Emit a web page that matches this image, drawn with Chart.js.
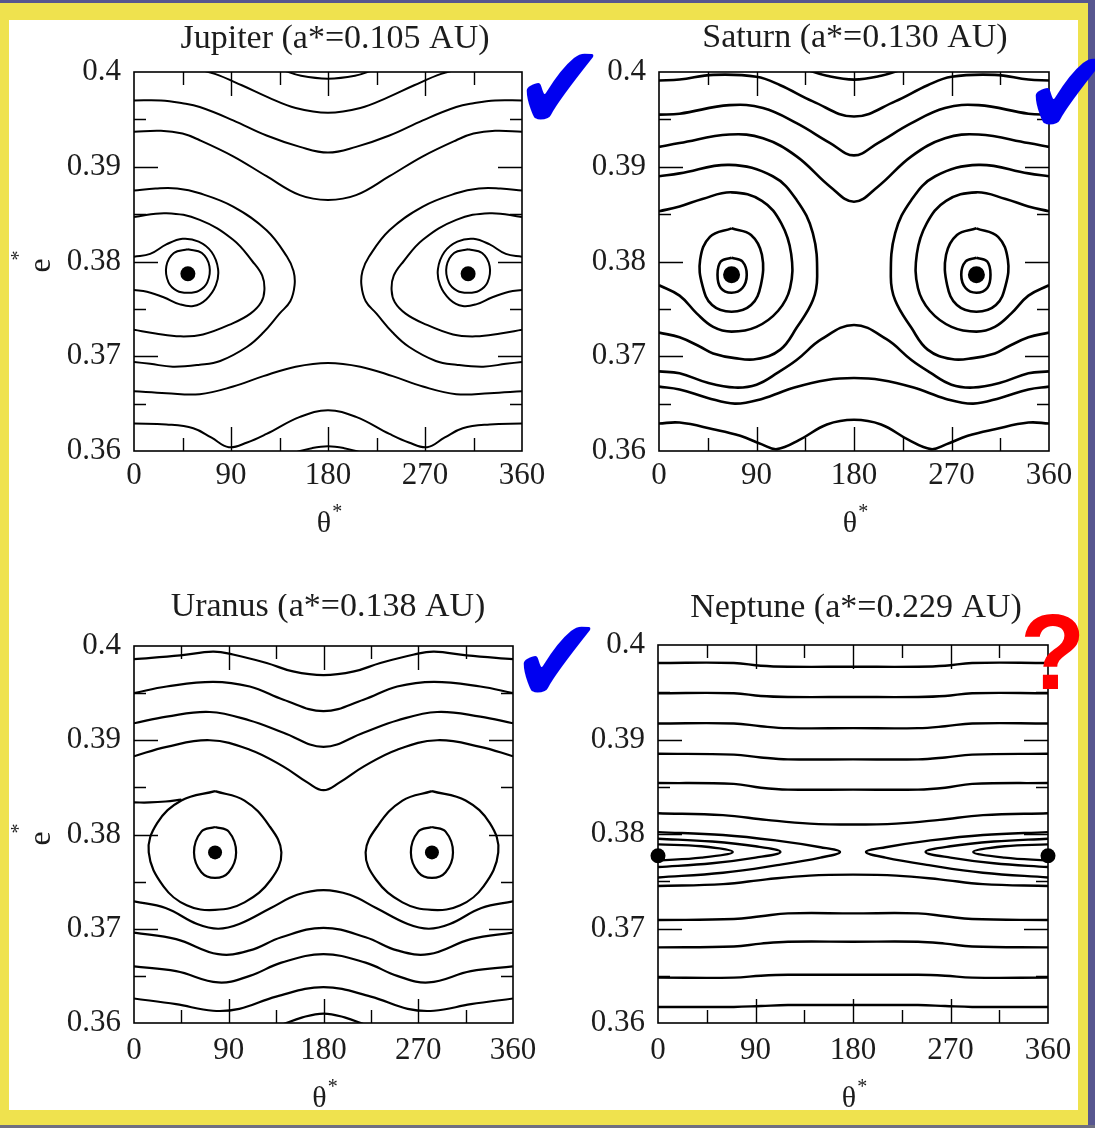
<!DOCTYPE html>
<html>
<head>
<meta charset="utf-8">
<script src="https://cdn.jsdelivr.net/npm/chart.js@4.4.1/dist/chart.umd.min.js"></script>
<style>
  html, body { margin: 0; padding: 0; }
  body { width: 1095px; height: 1128px; position: relative; overflow: hidden; background: #57568f; }
  #frame { position: absolute; left: 0; top: 3px; width: 1088px; height: 1122px; background: #efe24e; }
  #sheet { position: absolute; left: 9px; top: 20px; width: 1069px; height: 1090px; background: #fff; }
  #foot { position: absolute; left: 0; top: 1125px; width: 1095px; height: 3px; background: #6f6f80; }
  canvas { position: absolute; }
  .tick { position: absolute; font-family: "DejaVu Sans", sans-serif; color: #0000f0; font-size: 110px; line-height: 1; transform: scaleY(1.1); transform-origin: 0 0; }
  .query { position: absolute; font-family: "Liberation Sans", Arial, sans-serif; font-weight: bold; color: #ff0000; font-size: 107px; line-height: 1; }
</style>
</head>
<body>
<div id="frame"></div>
<div id="sheet"></div>
<div id="foot"></div>
<canvas id="c0"></canvas>
<canvas id="c1"></canvas>
<canvas id="c2"></canvas>
<canvas id="c3"></canvas>
<div class="tick" style="left:514px;top:28px">✔</div>
<div class="tick" style="left:1023px;top:33px">✔</div>
<div class="tick" style="left:511px;top:601px">✔</div>
<div class="query" style="left:1020px;top:599px">?</div>
<script>
// axis ticks shared by all four panels
const thetaTicks = [0, 90, 180, 270, 360];
const thetaMinor = [45, 135, 225, 315];
const eTicks = [0.36, 0.37, 0.38, 0.39, 0.4];
const eMinor = [0.365, 0.375, 0.385, 0.395];
const eTickLabels = ['0.36', '0.37', '0.38', '0.39', '0.4'];

const panelTitles = ['Jupiter (a*=0.105 AU)', 'Saturn (a*=0.130 AU)', 'Uranus (a*=0.138 AU)', 'Neptune (a*=0.229 AU)'];

// fixed points [theta*, e*]
const jupiterCentres = [[50, 0.3787], [310, 0.3787]];
const saturnCentres = [[67, 0.3786], [293, 0.3786]];
const uranusCentres = [[77, 0.3781], [283, 0.3781]];
const neptuneCentres = [[0, 0.3777], [360, 0.3777]];

// traced orbits, one [theta*, e*] list per curve
const jupiterOrbits = [
  [[138,0.4002],[155,0.3996],[180,0.3993],[205,0.3996],[222,0.4002]],
  [[55,0.4004],[75,0.3998],[100,0.3986],[125,0.3973],[150,0.3962],[180,0.3957],[210,0.3962],[235,0.3973],[260,0.3986],[285,0.3998],[305,0.4004]],
  [[0,0.3970],[25,0.3970],[45,0.3967],[61,0.3963],[92,0.3949],[123,0.3933],[154,0.3921],[180,0.3915],[206,0.3921],[237,0.3933],[268,0.3949],[299,0.3963],[315,0.3967],[335,0.3970],[360,0.3970]],
  [[0,0.3937],[25,0.3938],[45,0.3935],[61,0.3928],[92,0.3911],[123,0.3890],[154,0.3870],[180,0.3865],[206,0.3870],[237,0.3890],[268,0.3911],[299,0.3928],[315,0.3935],[335,0.3938],[360,0.3937]],
  [[0,0.3875],[20,0.3877],[40,0.3877],[61,0.3872],[92,0.3858],[123,0.3833],[142,0.3805],[148,0.3790],[149,0.3775],[145,0.3758],[135,0.3745],[120,0.3725],[105,0.3710],[80,0.3695],[61,0.3691],[36,0.3689],[15,0.3692],[0,0.3694]],
  [[360,0.3875],[340,0.3877],[320,0.3877],[299,0.3872],[268,0.3858],[237,0.3833],[218,0.3805],[212,0.3790],[211,0.3775],[215,0.3758],[225,0.3745],[240,0.3725],[255,0.3710],[280,0.3695],[299,0.3691],[324,0.3689],[345,0.3692],[360,0.3694]],
  [[0,0.3847],[30,0.3851],[61,0.3844],[92,0.3823],[110,0.3800],[119,0.3785],[121,0.3770],[118,0.3757],[108,0.3745],[92,0.3735],[64,0.3723],[43,0.3721],[20,0.3724],[0,0.3728]],
  [[360,0.3847],[330,0.3851],[299,0.3844],[268,0.3823],[250,0.3800],[241,0.3785],[239,0.3770],[242,0.3757],[252,0.3745],[268,0.3735],[296,0.3723],[317,0.3721],[340,0.3724],[360,0.3728]],
  [[0,0.3805],[15,0.3808],[30,0.3818],[45,0.3824],[60,0.3821],[72,0.3810],[78,0.3792],[76,0.3775],[67,0.3760],[55,0.3753],[42,0.3755],[28,0.3762],[12,0.3768],[0,0.3770]],
  [[360,0.3805],[345,0.3808],[330,0.3818],[315,0.3824],[300,0.3821],[288,0.3810],[282,0.3792],[284,0.3775],[293,0.3760],[305,0.3753],[318,0.3755],[332,0.3762],[348,0.3768],[360,0.3770]],
  [[50,0.3813],[63,0.3809],[70,0.3795],[68,0.3778],[60,0.3769],[50,0.3767],[40,0.3769],[32,0.3778],[30,0.3795],[37,0.3809],[50,0.3813]],
  [[310,0.3813],[323,0.3809],[330,0.3795],[328,0.3778],[320,0.3769],[310,0.3767],[300,0.3769],[292,0.3778],[290,0.3795],[297,0.3809],[310,0.3813]],
  [[0,0.3663],[30,0.3661],[61,0.3660],[92,0.3668],[120,0.3679],[150,0.3689],[180,0.3693],[210,0.3689],[240,0.3679],[268,0.3668],[299,0.3660],[330,0.3661],[360,0.3663]],
  [[0,0.3629],[30,0.3628],[55,0.3624],[72,0.3614],[88,0.3604],[105,0.3609],[123,0.3618],[154,0.3636],[180,0.3643],[206,0.3636],[237,0.3618],[255,0.3609],[272,0.3604],[288,0.3614],[305,0.3624],[330,0.3628],[360,0.3629]],
  [[148,0.3598],[165,0.3603],[180,0.3605],[195,0.3603],[212,0.3598]]
];

const saturnOrbits = [
  [[135,0.4003],[155,0.3996],[180,0.3992],[205,0.3996],[225,0.4003]],
  [[0,0.3991],[19,0.3992],[50,0.3997],[90,0.3995],[112,0.3986],[142,0.3969],[180,0.3953],[218,0.3969],[248,0.3986],[270,0.3995],[310,0.3997],[341,0.3992],[360,0.3991]],
  [[0,0.3955],[19,0.3956],[65,0.3965],[96,0.3962],[127,0.3946],[158,0.3925],[180,0.3912],[202,0.3925],[233,0.3946],[264,0.3962],[295,0.3965],[341,0.3956],[360,0.3955]],
  [[0,0.3921],[19,0.3925],[65,0.3934],[96,0.3930],[127,0.3911],[158,0.3879],[180,0.3863],[202,0.3879],[233,0.3911],[264,0.3930],[295,0.3934],[341,0.3925],[360,0.3921]],
  [[67,0.3804],[77,0.3800],[81,0.3786],[77,0.3772],[67,0.3767],[57,0.3772],[54,0.3786],[57,0.3800],[67,0.3804]],
  [[293,0.3804],[283,0.3800],[279,0.3786],[283,0.3772],[293,0.3767],[303,0.3772],[306,0.3786],[303,0.3800],[293,0.3804]],
  [[67,0.3835],[85,0.3828],[95,0.3807],[94,0.3775],[85,0.3754],[67,0.3747],[49,0.3754],[40,0.3775],[38,0.3802],[47,0.3826],[67,0.3835]],
  [[293,0.3835],[275,0.3828],[265,0.3807],[266,0.3775],[275,0.3754],[293,0.3747],[311,0.3754],[320,0.3775],[322,0.3802],[313,0.3826],[293,0.3835]],
  [[0,0.3853],[19,0.3858],[40,0.3866],[67,0.3873],[95,0.3864],[113,0.3840],[122,0.3808],[121,0.3772],[110,0.3748],[90,0.3731],[67,0.3726],[50,0.3731],[35,0.3745],[19,0.3764],[0,0.3775]],
  [[360,0.3853],[341,0.3858],[320,0.3866],[293,0.3873],[265,0.3864],[247,0.3840],[238,0.3808],[239,0.3772],[250,0.3748],[270,0.3731],[293,0.3726],[310,0.3731],[325,0.3745],[341,0.3764],[360,0.3775]],
  [[0,0.3890],[19,0.3893],[65,0.3902],[105,0.3890],[127,0.3865],[142,0.3830],[146,0.3784],[142,0.3759],[127,0.3730],[112,0.3707],[90,0.3697],[70,0.3698],[50,0.3703],[38,0.3710],[19,0.3720],[0,0.3725]],
  [[360,0.3890],[341,0.3893],[295,0.3902],[255,0.3890],[233,0.3865],[218,0.3830],[214,0.3784],[218,0.3759],[233,0.3730],[248,0.3707],[270,0.3697],[290,0.3698],[310,0.3703],[322,0.3710],[341,0.3720],[360,0.3725]],
  [[0,0.3684],[19,0.3682],[45,0.3672],[70,0.3667],[90,0.3670],[110,0.3683],[127,0.3696],[150,0.3718],[180,0.3733],[210,0.3718],[233,0.3696],[250,0.3683],[270,0.3670],[290,0.3667],[315,0.3672],[341,0.3682],[360,0.3684]],
  [[0,0.3668],[19,0.3665],[45,0.3656],[70,0.3650],[95,0.3655],[125,0.3667],[155,0.3675],[180,0.3677],[205,0.3675],[235,0.3667],[265,0.3655],[290,0.3650],[315,0.3656],[341,0.3665],[360,0.3668]],
  [[0,0.3629],[19,0.3630],[50,0.3623],[75,0.3616],[95,0.3607],[109,0.3602],[130,0.3612],[155,0.3628],[180,0.3633],[205,0.3628],[230,0.3612],[251,0.3602],[265,0.3607],[285,0.3616],[310,0.3623],[341,0.3630],[360,0.3629]]
];

const uranusOrbits = [
  [[0,0.3986],[44,0.3990],[75,0.3994],[94,0.3991],[126,0.3982],[151,0.3973],[180,0.3969],[209,0.3973],[234,0.3982],[266,0.3991],[285,0.3994],[316,0.3990],[360,0.3986]],
  [[0,0.3950],[31,0.3957],[75,0.3962],[110,0.3957],[142,0.3943],[180,0.3931],[218,0.3943],[250,0.3957],[285,0.3962],[329,0.3957],[360,0.3950]],
  [[0,0.3918],[31,0.3925],[72,0.3930],[110,0.3921],[142,0.3908],[180,0.3893],[218,0.3908],[250,0.3921],[288,0.3930],[329,0.3925],[360,0.3918]],
  [[0,0.3883],[31,0.3893],[72,0.3900],[110,0.3890],[142,0.3872],[165,0.3855],[180,0.3847],[195,0.3855],[218,0.3872],[250,0.3890],[288,0.3900],[329,0.3893],[360,0.3883]],
  [[77,0.3808],[90,0.3803],[97,0.3781],[90,0.3760],[77,0.3754],[64,0.3760],[57,0.3781],[64,0.3803],[77,0.3808]],
  [[283,0.3808],[270,0.3803],[263,0.3781],[270,0.3760],[283,0.3754],[296,0.3760],[303,0.3781],[296,0.3803],[283,0.3808]],
  [[77,0.3846],[105,0.3836],[128,0.3810],[140,0.3781],[130,0.3752],[105,0.3728],[77,0.3720],[50,0.3725],[28,0.3745],[14,0.3781],[22,0.3812],[45,0.3836],[77,0.3846]],
  [[283,0.3846],[255,0.3836],[232,0.3810],[220,0.3781],[230,0.3752],[255,0.3728],[283,0.3720],[310,0.3725],[332,0.3745],[346,0.3781],[338,0.3812],[315,0.3836],[283,0.3846]],
  [[0,0.3834],[15,0.3834],[30,0.3835],[45,0.3837]],
  [[0,0.3729],[30,0.3722],[60,0.3705],[80,0.3700],[100,0.3705],[130,0.3722],[155,0.3736],[180,0.3741],[205,0.3736],[230,0.3722],[260,0.3705],[280,0.3700],[300,0.3705],[330,0.3722],[360,0.3729]],
  [[0,0.3696],[40,0.3689],[80,0.3673],[110,0.3677],[140,0.3691],[180,0.3701],[220,0.3691],[250,0.3677],[280,0.3673],[320,0.3689],[360,0.3696]],
  [[0,0.3660],[40,0.3655],[80,0.3643],[110,0.3650],[140,0.3664],[180,0.3673],[220,0.3664],[250,0.3650],[280,0.3643],[320,0.3655],[360,0.3660]],
  [[0,0.3626],[40,0.3620],[75,0.3613],[100,0.3615],[135,0.3628],[180,0.3638],[225,0.3628],[260,0.3615],[285,0.3613],[320,0.3620],[360,0.3626]],
  [[140,0.3598],[160,0.3606],[180,0.3610],[200,0.3606],[220,0.3598]]
];

const neptuneOrbits = [
  [[0,0.3981],[70,0.3981],[95,0.3978],[120,0.3977],[180,0.3977],[240,0.3977],[265,0.3978],[290,0.3981],[360,0.3981]],
  [[0,0.3949],[70,0.3949],[95,0.3946],[120,0.3945],[180,0.3945],[240,0.3945],[265,0.3946],[290,0.3949],[360,0.3949]],
  [[0,0.3917],[70,0.3917],[95,0.3914],[120,0.3912],[180,0.3912],[240,0.3912],[265,0.3914],[290,0.3917],[360,0.3917]],
  [[0,0.3885],[70,0.3884],[95,0.3881],[120,0.3879],[180,0.3879],[240,0.3879],[265,0.3881],[290,0.3884],[360,0.3885]],
  [[0,0.3854],[70,0.3853],[95,0.3849],[120,0.3847],[180,0.3847],[240,0.3847],[265,0.3849],[290,0.3853],[360,0.3854]],
  [[0,0.3822],[60,0.3820],[100,0.3815],[140,0.3811],[180,0.3810],[220,0.3811],[260,0.3815],[300,0.3820],[360,0.3822]],
  [[0,0.3802],[60,0.3799],[110,0.3793],[150,0.3786],[168,0.3781],[150,0.3775],[110,0.3767],[60,0.3759],[0,0.3754]],
  [[360,0.3802],[300,0.3799],[250,0.3793],[210,0.3786],[192,0.3781],[210,0.3775],[250,0.3767],[300,0.3759],[360,0.3754]],
  [[0,0.3795],[50,0.3792],[90,0.3787],[113,0.3781],[90,0.3775],[50,0.3769],[0,0.3765]],
  [[360,0.3795],[310,0.3792],[270,0.3787],[247,0.3781],[270,0.3775],[310,0.3769],[360,0.3765]],
  [[0,0.3789],[40,0.3787],[69,0.3781],[40,0.3775],[0,0.3772]],
  [[360,0.3789],[320,0.3787],[291,0.3781],[320,0.3775],[360,0.3772]],
  [[0,0.3745],[60,0.3747],[100,0.3752],[140,0.3756],[180,0.3757],[220,0.3756],[260,0.3752],[300,0.3747],[360,0.3745]],
  [[0,0.3709],[70,0.3710],[95,0.3713],[120,0.3716],[180,0.3716],[240,0.3716],[265,0.3713],[290,0.3710],[360,0.3709]],
  [[0,0.3680],[70,0.3681],[95,0.3684],[120,0.3686],[180,0.3686],[240,0.3686],[265,0.3684],[290,0.3681],[360,0.3680]],
  [[0,0.3648],[70,0.3648],[95,0.3650],[120,0.3651],[180,0.3651],[240,0.3651],[265,0.3650],[290,0.3648],[360,0.3648]],
  [[0,0.3617],[70,0.3617],[95,0.3618],[120,0.3619],[180,0.3619],[240,0.3619],[265,0.3618],[290,0.3617],[360,0.3617]]
];

// page placement of each plot box and its text
const layout = [
  { box: [134, 72, 522, 451], titleX: 335, titleY: 48, eLabel: true, lw: 2, dot: 7.5, tickPad: 6 },
  { box: [659, 72, 1049, 451], titleX: 855, titleY: 47, eLabel: false, lw: 2.6, dot: 8.5, tickPad: 6 },
  { box: [134, 646, 513, 1023], titleX: 328, titleY: 616, eLabel: true, lw: 2.2, dot: 7, tickPad: 9 },
  { box: [658, 645, 1048, 1023], titleX: 856, titleY: 617, eLabel: false, lw: 2.4, dot: 7.5, tickPad: 9 }
];

const orbitSets = [jupiterOrbits, saturnOrbits, uranusOrbits, neptuneOrbits];
const centreSets = [jupiterCentres, saturnCentres, uranusCentres, neptuneCentres];

const PAD_L = 124, PAD_T = 52, PAD_R = 40, PAD_B = 95;
const serif = '"Liberation Serif", "Times New Roman", serif';
const ink = '#1c1c1c';

// frame, inward ticks, titles
const decor = {
  id: 'decor',
  afterDatasetsDraw(chart, args, o) {
    const { ctx, chartArea: a, scales: { x, y } } = chart;
    ctx.save();
    ctx.strokeStyle = '#000';
    ctx.lineWidth = 1.4;
    ctx.beginPath();
    thetaTicks.slice(1, -1).concat(thetaMinor).forEach(v => {
      const px = Math.round(x.getPixelForValue(v)) + 0.5;
      const len = thetaTicks.includes(v) ? 24 : 13;
      ctx.moveTo(px, a.bottom); ctx.lineTo(px, a.bottom - len);
      ctx.moveTo(px, a.top); ctx.lineTo(px, a.top + len);
    });
    eTicks.slice(1, -1).concat(eMinor).forEach(v => {
      const py = Math.round(y.getPixelForValue(v)) + 0.5;
      const len = eTicks.includes(v) ? 24 : 12;
      ctx.moveTo(a.left, py); ctx.lineTo(a.left + len, py);
      ctx.moveTo(a.right, py); ctx.lineTo(a.right - len, py);
    });
    ctx.stroke();
    ctx.lineWidth = 1.6;
    ctx.strokeRect(a.left, a.top, a.right - a.left, a.bottom - a.top);

    ctx.fillStyle = ink;
    ctx.textBaseline = 'alphabetic';
    ctx.textAlign = 'center';
    ctx.font = '34px ' + serif;
    ctx.fillText(o.title, a.left + o.titleDx, a.top + o.titleDy);

    // theta* under the axis
    const cx = (a.left + a.right) / 2 - 4;
    ctx.font = '30px ' + serif;
    ctx.fillText('θ', cx, a.bottom + o.thetaDy);
    const w = ctx.measureText('θ').width;
    ctx.textAlign = 'left';
    ctx.font = '20px ' + serif;
    ctx.fillText('*', cx + w / 2 + 1, a.bottom + o.thetaDy - 14);

    // e* beside the axis, turned upright
    if (o.eLabel) {
      ctx.save();
      ctx.translate(a.left - 84, (a.top + a.bottom) / 2 + 4);
      ctx.rotate(-Math.PI / 2);
      ctx.textAlign = 'center';
      ctx.font = '32px ' + serif;
      ctx.fillText('e', 0, 0);
      ctx.textAlign = 'left';
      ctx.font = '20px ' + serif;
      ctx.fillText('*', 5, -25);
      ctx.restore();
    }
    ctx.restore();
  }
};

layout.forEach((p, i) => {
  const [l, t, r, b] = p.box;
  const cv = document.getElementById('c' + i);
  cv.width = r - l + PAD_L + PAD_R;
  cv.height = b - t + PAD_T + PAD_B;
  cv.style.left = (l - PAD_L) + 'px';
  cv.style.top = (t - PAD_T) + 'px';

  const datasets = orbitSets[i].map(curve => ({
    type: 'line',
    data: curve.map(([th, e]) => ({ x: th, y: e })),
    borderColor: '#000',
    borderWidth: p.lw,
    pointRadius: 0,
    tension: 0.4,
    fill: false
  }));
  datasets.push({
    type: 'scatter',
    data: centreSets[i].map(([th, e]) => ({ x: th, y: e })),
    backgroundColor: '#000',
    borderWidth: 0,
    pointRadius: p.dot,
    clip: false
  });

  new Chart(cv, {
    type: 'line',
    data: { datasets },
    options: {
      responsive: false,
      animation: false,
      devicePixelRatio: 1,
      layout: { padding: { left: 0, top: PAD_T, right: PAD_R, bottom: 0 } },
      elements: { line: { capBezierPoints: false } },
      plugins: {
        legend: { display: false },
        tooltip: { enabled: false },
        decor: {
          title: panelTitles[i],
          titleDx: p.titleX - l,
          titleDy: p.titleY - t,
          thetaDy: i < 2 ? 81 : 84,
          eLabel: p.eLabel
        }
      },
      scales: {
        x: {
          type: 'linear', position: 'bottom', min: 0, max: 360,
          afterBuildTicks: s => { s.ticks = thetaTicks.map(v => ({ value: v })); },
          afterFit: s => { s.height = PAD_B; },
          ticks: { color: ink, font: { family: serif, size: 31 }, padding: p.tickPad, maxRotation: 0, autoSkip: false },
          grid: { display: false, drawTicks: false },
          border: { display: false }
        },
        y: {
          type: 'linear', position: 'left', min: 0.36, max: 0.4,
          afterBuildTicks: s => { s.ticks = eTicks.map(v => ({ value: v })); },
          afterFit: s => { s.width = PAD_L; },
          ticks: {
            color: ink, font: { family: serif, size: 31 }, padding: 13, autoSkip: false,
            callback: v => eTickLabels[eTicks.findIndex(t => Math.abs(t - v) < 1e-6)]
          },
          grid: { display: false, drawTicks: false },
          border: { display: false }
        }
      }
    },
    plugins: [decor]
  });
});
</script>
</body>
</html>
